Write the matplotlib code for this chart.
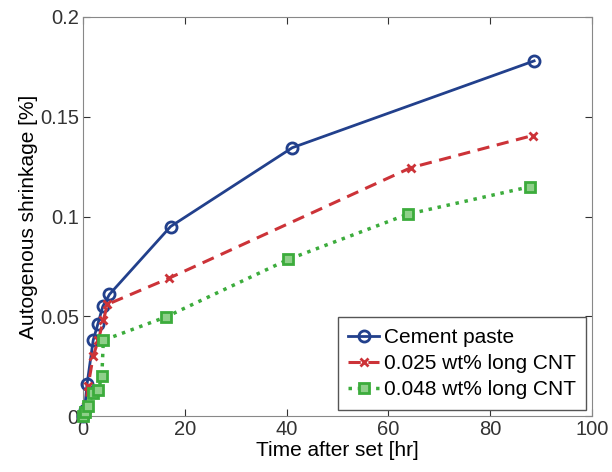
import numpy as np
import matplotlib.pyplot as plt

plt.rcParams['font.family'] = ['Liberation Sans', 'DejaVu Sans']

# data
t_cement = [0, 0.3, 0.8, 2.0, 2.9, 3.9, 5.2, 17.2, 41.1, 88.6]
s_cement = [0, 0.003, 0.016, 0.038, 0.046, 0.055, 0.061, 0.095, 0.1345, 0.178]

t_cnt025 = [0, 0.5, 1.0, 2.0, 3.0, 4.0, 4.8, 16.8, 64.4, 88.3]
s_cnt025 = [0, 0.005, 0.015, 0.030, 0.038, 0.048, 0.056, 0.069, 0.1245, 0.1406]

t_cnt048 = [0, 0.4, 0.9, 2.0, 3.0, 3.7, 4.0, 16.3, 40.3, 63.8, 87.7]
s_cnt048 = [0, 0.002, 0.005, 0.0115, 0.013, 0.020, 0.038, 0.0497, 0.0785, 0.1012, 0.1149]

labels = ['Cement paste', '0.025 wt% long CNT', '0.048 wt% long CNT']

fig = plt.figure(figsize=(6.12, 4.72), dpi=100)
ax = fig.add_axes([0.1356, 0.1184, 0.832, 0.8456])

ax.plot(t_cement, s_cement, '-o', color='#22408c', lw=2, ms=8, mfc='none', mew=2,
        label=labels[0], clip_on=False, zorder=3)
ax.plot(t_cnt025, s_cnt025, '--x', color='#cc3338', lw=2.2, ms=6, mew=2,
        dashes=(4, 2.5), label=labels[1], clip_on=False, zorder=3)
ax.plot(t_cnt048, s_cnt048, ':s', color='#3cac3c', lw=2.5, ms=6.5, mfc='#8fd08a', mew=2,
        label=labels[2], clip_on=False, zorder=3)

ax.set_xlim(0, 100)
ax.set_ylim(0, 0.2)
ax.set_xticks([0, 20, 40, 60, 80, 100])
ax.set_yticks([0, 0.05, 0.1, 0.15, 0.2])
ax.set_yticklabels(['0', '0.05', '0.1', '0.15', '0.2'])
ax.tick_params(direction='in', top=True, right=True, labelsize=14.5, length=5,
               colors='#333333', pad=3)
for sp in ax.spines.values():
    sp.set_color('#888888')
ax.set_xlabel('Time after set [hr]', fontsize=15, labelpad=1)
ax.set_ylabel('Autogenous shrinkage [%]', fontsize=15, labelpad=1)

leg = ax.legend(loc='lower right', fontsize=15, handlelength=1.5, handletextpad=0.2,
                borderpad=0.5, labelspacing=0.35, fancybox=False, framealpha=1,
                borderaxespad=0.3)
leg.get_frame().set_edgecolor('#555555')

fig.savefig('out.png', dpi=100)
